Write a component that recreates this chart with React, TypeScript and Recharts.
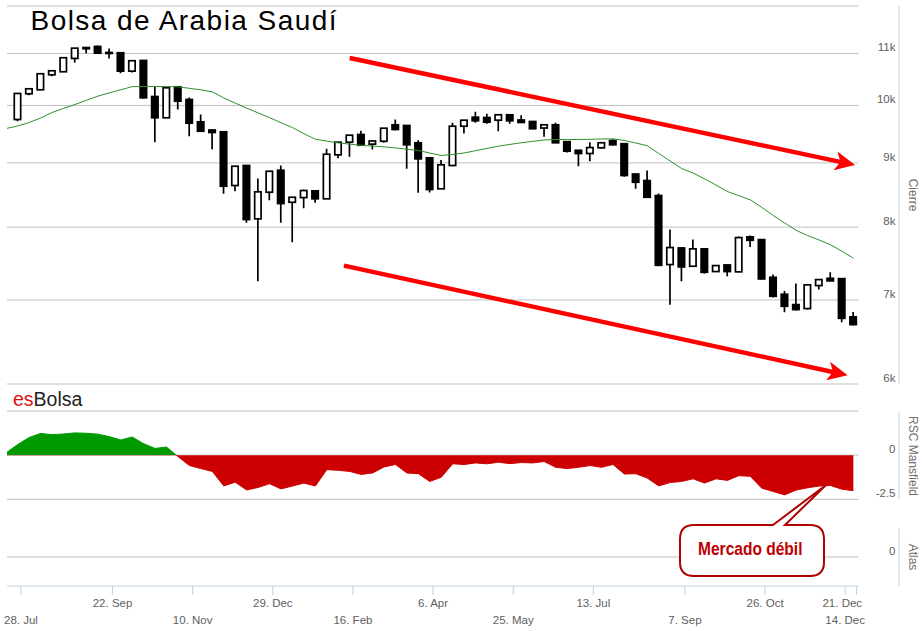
import React from 'react';
import {
  ComposedChart,
  Bar,
  Line,
  Area,
  XAxis,
  YAxis,
  CartesianGrid,
  ReferenceLine
} from 'recharts';

// weekly candles, week 0 = week of 28 Jul 2014
const opens = [
  9745, 10216, 10291, 10578, 10637, 10900, 11095, 11142, 11020, 11014,
  10649, 10860, 10165, 9776, 10348, 10110, 9704, 9559, 9528, 8634,
  8957, 8122, 8529, 8880, 8373, 8445, 8550, 8426, 9134, 9348,
  9481, 9315, 9364, 9651, 9639, 9338, 9084, 8582, 8957, 9626,
  9787, 9781, 9733, 9830, 9736, 9710, 9594, 9651, 9357, 9210,
  9156, 9252, 9376, 9322, 8818, 8713, 8477, 7469, 7700, 7446,
  7687, 7374, 7464, 7370, 7858, 7819, 7297, 7073, 6940, 6890,
  7187, 7283, 7279, 6786
];
const highs = [
  10231, 10316, 10604, 10662, 10920, 11111, 11128, 11162, 11101, 11020,
  10860, 10870, 10359, 10335, 10354, 10147, 9835, 9568, 9533, 8949,
  8966, 8745, 8867, 8957, 8453, 8571, 8555, 9235, 9351, 9472,
  9546, 9372, 9595, 9745, 9648, 9380, 9090, 9048, 9688, 9736,
  9884, 9848, 9835, 9835, 9823, 9719, 9656, 9688, 9364, 9214,
  9348, 9343, 9398, 9331, 8826, 8875, 8509, 7964, 7706, 7819,
  7692, 7459, 7469, 7863, 7877, 7827, 7333, 7117, 7213, 7200,
  7266, 7366, 7279, 6848
];
const lows = [
  9715, 10190, 10287, 10551, 10633, 10814, 11006, 10990, 10900, 10610,
  10624, 10128, 9348, 9772, 9926, 9451, 9533, 9228, 8503, 8544,
  8063, 7243, 8404, 8063, 7781, 8282, 8364, 8423, 9077, 9100,
  9291, 9223, 9338, 9555, 8902, 8519, 8525, 8578, 8945, 9498,
  9688, 9670, 9538, 9670, 9683, 9577, 9441, 9334, 9172, 8945,
  9028, 9240, 9291, 8776, 8582, 8437, 7448, 6940, 7243, 7441,
  7347, 7370, 7310, 7366, 7715, 7266, 7030, 6843, 6865, 6877,
  7134, 7246, 6718, 6683
];
const closes = [
  10222, 10310, 10598, 10656, 10914, 11107, 11120, 11006, 11000, 10649,
  10854, 10141, 9776, 10329, 10078, 9679, 9538, 9516, 8623, 8945,
  8112, 8535, 8863, 8353, 8450, 8555, 8426, 9144, 9348, 9469,
  9296, 9369, 9591, 9568, 9304, 9067, 8571, 8968, 9626, 9733,
  9722, 9697, 9830, 9722, 9692, 9581, 9651, 9338, 9195, 9156,
  9257, 9338, 9304, 8794, 8686, 8450, 7459, 7706, 7437, 7687,
  7364, 7455, 7374, 7848, 7809, 7275, 7047, 6919, 6877, 7196,
  7266, 7249, 6768, 6690
];

// these two start one week before the first candle
const movingAverage = [
  9586, 9630, 9692, 9772, 9871, 9946, 10017, 10095, 10171, 10233,
  10291, 10350, 10354, 10354, 10352, 10348, 10318, 10291, 10252, 10139,
  10043, 9951, 9864, 9779, 9688, 9602, 9495, 9399, 9367, 9336,
  9315, 9295, 9281, 9268, 9251, 9228, 9207, 9164, 9122, 9139,
  9165, 9204, 9242, 9280, 9310, 9339, 9363, 9387, 9394, 9394,
  9394, 9398, 9403, 9406, 9377, 9334, 9287, 9156, 9031, 8907,
  8834, 8741, 8642, 8539, 8475, 8410, 8294, 8173, 8061, 7954,
  7877, 7814, 7745, 7655, 7558
];
const rscMansfield = [
  0.14, 0.6, 1.0, 1.23, 1.16, 1.2, 1.26, 1.24, 1.19, 1.05,
  0.86, 1.03, 0.65, 0.38, 0.46, -0.08, -0.59, -0.76, -0.92, -1.74,
  -1.53, -1.97, -1.83, -1.62, -1.91, -1.75, -1.58, -1.75, -0.82, -0.86,
  -0.92, -1.09, -1.01, -0.67, -0.53, -1.01, -1.05, -1.49, -1.25, -0.49,
  -0.53, -0.44, -0.49, -0.4, -0.48, -0.42, -0.44, -0.36, -0.69, -0.76,
  -0.69, -0.59, -0.69, -0.53, -1.07, -1.05, -1.3, -1.74, -1.55, -1.49,
  -1.34, -1.58, -1.34, -1.43, -1.16, -1.2, -1.87, -2.06, -2.25, -1.98,
  -1.85, -1.75, -1.72, -1.93, -2.01
];

const tickWeeks = [0, 8, 15, 22, 29, 36, 43, 50, 58, 65, 72, 73];
const tickLabels = [
  '28. Jul', '22. Sep', '10. Nov', '29. Dec', '16. Feb', '6. Apr',
  '25. May', '13. Jul', '7. Sep', '26. Oct', '14. Dec', '21. Dec'
];
const priceTicks = [6000, 7000, 8000, 9000, 10000, 11000, 12000];
const rscTicks = [-2.5, 0, 2.5];

// trend arrows, in weeks / points
const upperArrow = [{ x: 29.0, y: 10910 }, { x: 73.15, y: 8965 }];
const lowerArrow = [{ x: 28.5, y: 7455 }, { x: 72.5, y: 6098 }];

const FONT = '"Liberation Sans", Arial, sans-serif';
const X_DOMAIN: [number, number] = [-0.935, 73.45];
const TICK_SHIFT = 2 / 7; // ticks are mondays, candles saturdays

const rows = movingAverage.map((ma, k) => {
  const i = k - 1;
  const row: any = { i, ma, rsc: rscMansfield[k] };
  if (i >= 0) {
    row.open = opens[i];
    row.high = highs[i];
    row.low = lows[i];
    row.close = closes[i];
    row.range = [lows[i], highs[i]];
  }
  return row;
});

const xTicks = tickWeeks.map(w => w + TICK_SHIFT);

const rscMax = Math.max(...rscMansfield);
const rscMin = Math.min(...rscMansfield);
const zeroOffset = rscMax / (rscMax - rscMin);

const Candle = (props: any) => {
  const { x, y, width, height, payload } = props;
  if (!payload || payload.open == null || !isFinite(y) || !isFinite(height)) {
    return <g />;
  }
  const top = Math.min(y, y + height);
  const bottom = Math.max(y, y + height);
  const lnH = Math.log(payload.high);
  const lnL = Math.log(payload.low);
  const toY = (v: number) =>
    lnH === lnL ? top : top + ((bottom - top) * (lnH - Math.log(v))) / (lnH - lnL);
  const cx = x + width / 2;
  const yO = toY(payload.open);
  const yC = toY(payload.close);
  const up = payload.close >= payload.open;
  const bTop = Math.min(yO, yC);
  const bh = Math.max(Math.abs(yO - yC), 1);
  return (
    <g>
      <line x1={cx} x2={cx} y1={top} y2={bTop} stroke="#000" strokeWidth={1.7} />
      <line x1={cx} x2={cx} y1={bTop + bh} y2={bottom} stroke="#000" strokeWidth={1.7} />
      <rect
        x={cx - 3.2}
        y={bTop}
        width={6.4}
        height={bh}
        fill={up ? '#fff' : '#000'}
        stroke="#000"
        strokeWidth={1.7}
      />
    </g>
  );
};

const Arrow = (props: any) => {
  const { x1, y1, x2, y2 } = props;
  const len = Math.hypot(x2 - x1, y2 - y1);
  const ux = (x2 - x1) / len;
  const uy = (y2 - y1) / len;
  const nx = -uy;
  const ny = ux;
  const head = 20;
  const half = 9.5;
  const notch = 15;
  const pts = [
    [x2, y2],
    [x2 - ux * head + nx * half, y2 - uy * head + ny * half],
    [x2 - ux * notch, y2 - uy * notch],
    [x2 - ux * head - nx * half, y2 - uy * head - ny * half]
  ];
  return (
    <g>
      <line
        x1={x1}
        y1={y1}
        x2={x2 - ux * (notch - 1)}
        y2={y2 - uy * (notch - 1)}
        stroke="#ff0000"
        strokeWidth={4.5}
      />
      <polygon points={pts.map(p => p.join(',')).join(' ')} fill="#ff0000" />
    </g>
  );
};

const PriceTick = ({ x, y, payload }: any) => {
  if (payload.value >= 12000) return <g />;
  return (
    <text x={x + 37} y={y - 2} textAnchor="end" fontFamily={FONT} fontSize={11.5} fill="#606060">
      {payload.value / 1000}k
    </text>
  );
};

const RscTick = ({ x, y, payload }: any) => {
  if (payload.value > 0) return <g />;
  return (
    <text x={x + 37} y={y - 2} textAnchor="end" fontFamily={FONT} fontSize={11.5} fill="#606060">
      {payload.value}
    </text>
  );
};

const DateTick = ({ x, y, index }: any) => {
  const lower = index % 2 === 0;
  const last = index === tickLabels.length - 1;
  return (
    <text
      x={last ? x + 5.5 : x}
      y={y + (lower ? 29 : 12)}
      textAnchor={last ? 'end' : 'middle'}
      fontFamily={FONT}
      fontSize={11.5}
      fill="#606060"
    >
      {tickLabels[index]}
    </text>
  );
};

const AxisTitle = ({ x, y, text }: { x: number; y: number; text: string }) => (
  <text
    transform={`translate(${x},${y}) rotate(90)`}
    textAnchor="middle"
    dominantBaseline="central"
    fontFamily={FONT}
    fontSize={12}
    fill="#707070"
  >
    {text}
  </text>
);

const App = () => {
  return (
    <div style={{ position: 'absolute', left: 0, top: 0, width: 924, height: 631, background: '#fff' }}>
      <div style={{ position: 'absolute', left: 0, top: 0 }}>
        <ComposedChart width={924} height={390} data={rows} margin={{ top: 6, right: 0, bottom: 6, left: 7 }}>
          <CartesianGrid horizontal vertical={false} stroke="#C0C0C0" />
          <XAxis type="number" dataKey="i" domain={X_DOMAIN} allowDataOverflow hide />
          <YAxis
            orientation="right"
            width={65.5}
            scale="log"
            domain={[6000, 12000]}
            ticks={priceTicks}
            interval={0}
            allowDataOverflow
            axisLine={false}
            tickLine={false}
            tickSize={0}
            tickMargin={0}
            tick={<PriceTick />}
          />
          <Line
            dataKey="ma"
            type="linear"
            stroke="#2f8f2f"
            strokeWidth={1}
            dot={false}
            isAnimationActive={false}
          />
          <Bar dataKey="range" barSize={7} shape={<Candle />} isAnimationActive={false} />
          <ReferenceLine segment={upperArrow} ifOverflow="visible" shape={<Arrow />} />
          <ReferenceLine segment={lowerArrow} ifOverflow="visible" shape={<Arrow />} />
        </ComposedChart>
      </div>

      <div style={{ position: 'absolute', left: 0, top: 405 }}>
        <ComposedChart width={924} height={100} data={rows} margin={{ top: 6, right: 0, bottom: 5.7, left: 7 }}>
          <defs>
            <linearGradient id="rscFill" x1="0" y1="0" x2="0" y2="1">
              <stop offset={zeroOffset} stopColor="#009900" />
              <stop offset={zeroOffset} stopColor="#cc0000" />
            </linearGradient>
          </defs>
          <CartesianGrid horizontal vertical={false} stroke="#C0C0C0" />
          <XAxis type="number" dataKey="i" domain={X_DOMAIN} allowDataOverflow hide />
          <YAxis
            orientation="right"
            width={65.5}
            domain={[-2.5, 2.5]}
            ticks={rscTicks}
            interval={0}
            allowDataOverflow
            axisLine={false}
            tickLine={false}
            tickSize={0}
            tickMargin={0}
            tick={<RscTick />}
          />
          <Area
            dataKey="rsc"
            type="linear"
            baseValue={0}
            stroke="url(#rscFill)"
            strokeWidth={1}
            fill="url(#rscFill)"
            fillOpacity={1}
            dot={false}
            activeDot={false}
            isAnimationActive={false}
          />
        </ComposedChart>
      </div>

      <div style={{ position: 'absolute', left: 0, top: 522 }}>
        <ComposedChart width={924} height={109} data={rows} margin={{ top: 6, right: 0, bottom: 0, left: 7 }}>
          <XAxis
            type="number"
            dataKey="i"
            domain={X_DOMAIN}
            allowDataOverflow
            ticks={xTicks}
            interval={0}
            height={45}
            axisLine={{ stroke: '#C0D0E0' }}
            tickLine={{ stroke: '#C0D0E0' }}
            tickSize={9}
            tickMargin={0}
            tick={<DateTick />}
          />
          <YAxis
            orientation="right"
            width={65.5}
            domain={[-1, 1]}
            ticks={[0]}
            interval={0}
            allowDataOverflow
            axisLine={false}
            tickLine={false}
            tickSize={0}
            tickMargin={0}
            tick={<RscTick />}
          />
          <ReferenceLine y={0} stroke="#C0C0C0" />
          <Line dataKey="atlas" stroke="#000" dot={false} isAnimationActive={false} />
        </ComposedChart>
      </div>

      <svg
        width={924}
        height={631}
        style={{ position: 'absolute', left: 0, top: 0, pointerEvents: 'none' }}
      >
        <text x={30.5} y={30} fontFamily={FONT} fontSize={28} fill="#000" textLength={306}>
          Bolsa de Arabia Saudí
        </text>
        <text x={13} y={406} fontFamily={FONT} fontSize={19.5}>
          <tspan fill="#dd1111">es</tspan>
          <tspan fill="#222">Bolsa</tspan>
        </text>

        <line x1={899} x2={899} y1={6} y2={384} stroke="#C0D0E0" />
        <line x1={899} x2={899} y1={412} y2={499} stroke="#C0D0E0" />
        <line x1={899} x2={899} y1={528} y2={586} stroke="#C0D0E0" />
        <AxisTitle x={913} y={195} text="Cierre" />
        <AxisTitle x={913} y={456} text="RSC Mansfield" />
        <AxisTitle x={913} y={557} text="Atlas" />

        <path
          d="M 773 525 L 826 485 L 785 525 L 810 525 Q 824 525 824 539 L 824 562 Q 824 576 810 576 L 694 576 Q 680 576 680 562 L 680 539 Q 680 525 694 525 Z"
          fill="#fff"
          stroke="#b00000"
          strokeWidth={2}
        />
        <text
          x={698}
          y={555}
          fontFamily='"Liberation Sans Narrow", "Liberation Sans", Arial, sans-serif'
          fontWeight="bold"
          fontSize={17.5}
          fill="#c00000"
          textLength={104.5}
          lengthAdjust="spacingAndGlyphs"
        >
          Mercado débil
        </text>
      </svg>
    </div>
  );
};

export default App;
